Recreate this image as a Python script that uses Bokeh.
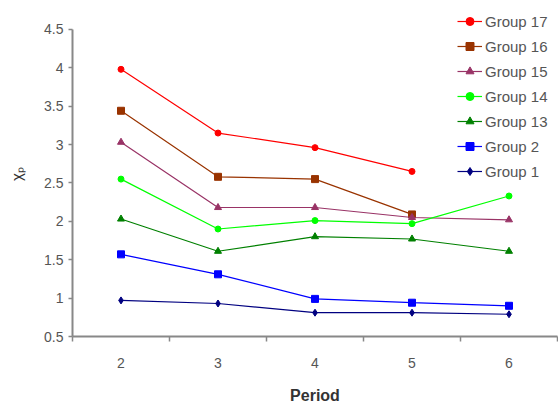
from bokeh.plotting import figure
from bokeh.models import FixedTicker, Legend, LegendItem
from bokeh.embed import file_html
from bokeh.resources import INLINE

periods = [2, 3, 4, 5, 6]
group17 = [3.98, 3.15, 2.96, 2.65]
group16 = [3.44, 2.58, 2.55, 2.09]
group15 = [3.03, 2.18, 2.18, 2.05, 2.02]
group14 = [2.55, 1.90, 2.01, 1.97, 2.33]
group13 = [2.03, 1.61, 1.80, 1.77, 1.61]
group2 = [1.57, 1.31, 0.99, 0.94, 0.90]
group1 = [0.97, 0.93, 0.81, 0.81, 0.79]
y_ticks = [0.5, 1, 1.5, 2, 2.5, 3, 3.5, 4, 4.5]

series = [
    ("Group 17", group17, "#FF0000", "circle", 6),
    ("Group 16", group16, "#993300", "square", 7),
    ("Group 15", group15, "#993366", "triangle", 7),
    ("Group 14", group14, "#00FF00", "circle", 6),
    ("Group 13", group13, "#008000", "triangle", 7),
    ("Group 2", group2, "#0000FF", "square", 7),
    ("Group 1", group1, "#000080", "diamond", 7),
]

FONT = "Liberation Sans"

p = figure(width=558, height=406, output_backend="svg", toolbar_location=None,
           x_range=(1.5, 6.5), y_range=(0.5, 4.733),
           min_border_left=72, min_border_right=1, min_border_top=11, min_border_bottom=68)
p.outline_line_color = None
p.xgrid.visible = False
p.ygrid.visible = False
p.background_fill_color = "white"

items = []
for name, vals, color, marker, size in series:
    xs = periods[:len(vals)]
    r1 = p.line(xs, vals, line_color=color, line_width=1.2)
    r2 = p.scatter(xs, vals, marker=marker, size=size, fill_color=color, line_color=color)
    items.append(LegendItem(label=name, renderers=[r1, r2]))

legend = Legend(items=items, location=(385, 155), orientation="vertical",
                glyph_width=25, glyph_height=20, label_height=20, spacing=5,
                padding=0, margin=0, label_standoff=3,
                label_text_font=FONT, label_text_font_size="15px", label_text_color="#555555",
                background_fill_alpha=0, border_line_color=None)
p.add_layout(legend, "center")

xax = p.xaxis[0]
yax = p.yaxis[0]

# x axis
xax.ticker = FixedTicker(ticks=periods, minor_ticks=[1.5, 2.5, 3.5, 4.5, 5.5, 6.5])
xax.major_tick_out = 0
xax.major_tick_in = 0
xax.minor_tick_out = 5
xax.minor_tick_in = 0
xax.minor_tick_line_color = "#888888"
xax.minor_tick_line_width = 1.5
xax.axis_label = "Period"
xax.axis_label_text_font = FONT
xax.axis_label_text_font_style = "bold"
xax.axis_label_text_font_size = "16px"
xax.axis_label_text_color = "#333333"
xax.major_label_standoff = 16
xax.axis_label_standoff = 16

# y axis
yax.ticker = FixedTicker(ticks=y_ticks)
yax.bounds = (0.5, 4.5)
yax.minor_tick_line_color = None
yax.major_tick_out = 4
yax.major_tick_in = 0
yax.axis_label = "χₚ"
yax.axis_label_text_font = FONT
yax.axis_label_text_font_size = "15px"
yax.axis_label_text_font_style = "normal"
yax.axis_label_text_color = "#333333"
yax.axis_label_standoff = 16

for ax in (xax, yax):
    ax.axis_line_color = "#888888"
    ax.axis_line_width = 2
    ax.major_tick_line_color = "#888888"
    ax.major_tick_line_width = 1.5
    ax.major_label_text_font = FONT
    ax.major_label_text_font_size = "14px"
    ax.major_label_text_color = "#555555"

open("out.html", "w").write(file_html(p, INLINE))
